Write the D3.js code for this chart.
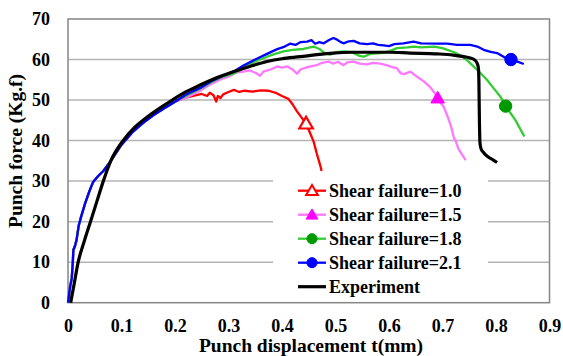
<!DOCTYPE html>
<html lang="en">
<head>
<meta charset="UTF-8">
<title>Punch force vs displacement</title>
<script src="https://d3js.org/d3.v7.min.js"></script>
</head>
<body style="margin:0; background:#fff">
<div id="chart"></div>
<script>
// ---- data (displacement mm, force Kg.f) ----
var xTicks = [0, 0.1, 0.2, 0.3, 0.4, 0.5, 0.6, 0.7, 0.8, 0.9];
var yTicks = [0, 10, 20, 30, 40, 50, 60, 70];

// shared elastic start of the four simulations
var simStart = [[0,0],[0.004,4],[0.007,6],[0.009,10],[0.01,13],[0.013,14],[0.016,15.5],[0.02,19],
  [0.024,21],[0.032,24.5],[0.04,27.5],[0.047,29.8],[0.056,31.2],[0.066,32.5],[0.08,35],[0.1,39],
  [0.12,42],[0.14,44.3],[0.16,46.3],[0.18,48],[0.2,49.6]];

var shear10 = [[0.22,50.6],[0.24,51.2],[0.25,51.5],[0.26,51.0],[0.265,51.8],[0.272,51.2],[0.277,49.6],
  [0.28,51.0],[0.285,50.5],[0.29,51.4],[0.30,52.0],[0.31,52.5],[0.32,52.0],[0.33,52.3],[0.345,52.1],
  [0.36,52.4],[0.375,52.3],[0.39,51.7],[0.40,51.0],[0.412,50.3],[0.42,48.9],[0.428,47.2],[0.437,45.6],
  [0.445,44.2],[0.452,42.0],[0.459,39.8],[0.465,36.8],[0.469,35.0],[0.472,33.6],[0.474,32.5]];

var shear15 = [[0.22,50.5],[0.247,52.3],[0.265,53.8],[0.284,55.0],[0.30,55.8],[0.315,56.8],[0.328,57.0],
  [0.34,57.3],[0.352,56.6],[0.359,56.0],[0.365,57.0],[0.38,57.6],[0.391,58.3],[0.40,58.0],[0.41,58.3],
  [0.42,57.5],[0.428,56.5],[0.435,57.6],[0.445,58.0],[0.453,58.3],[0.465,58.6],[0.475,59.2],[0.487,59.5],
  [0.495,59.0],[0.505,59.4],[0.515,58.6],[0.522,59.3],[0.534,59.5],[0.545,59.0],[0.559,58.8],[0.57,59.2],
  [0.584,59.0],[0.595,58.6],[0.605,58.2],[0.615,57.8],[0.622,56.6],[0.628,56.4],[0.64,57.0],[0.652,55.8],
  [0.665,54.6],[0.677,53.2],[0.685,51.8],[0.691,50.5],[0.697,49.2],[0.702,48.4],[0.710,45.8],[0.716,43.5],
  [0.721,40.8],[0.725,39.8],[0.730,37.9],[0.737,36.5],[0.743,35.2]];

var shear18 = [[0.22,51.0],[0.247,52.8],[0.27,54.6],[0.29,55.8],[0.309,56.5],[0.33,58.0],[0.35,59.5],
  [0.372,60.7],[0.39,61.5],[0.403,62.0],[0.42,62.4],[0.44,62.6],[0.459,63.2],[0.47,62.6],[0.48,61.6],
  [0.49,61.2],[0.50,61.8],[0.515,62.0],[0.53,61.8],[0.545,60.9],[0.553,60.7],[0.565,61.4],[0.584,61.6],
  [0.60,62.0],[0.615,62.8],[0.635,63.0],[0.646,63.2],[0.66,63.0],[0.684,63.2],[0.70,62.8],[0.709,62.4],
  [0.722,61.8],[0.734,61.0],[0.746,59.8],[0.758,58.3],[0.77,56.8],[0.783,55.0],[0.795,53.0],[0.808,50.9],
  [0.818,48.5],[0.826,47.0],[0.836,45.1],[0.844,43.2],[0.853,41.0]];

var shear21 = [[0.22,51.3],[0.247,53.0],[0.27,54.8],[0.29,56.0],[0.309,57.0],[0.328,58.5],[0.35,60.0],
  [0.372,61.4],[0.39,62.5],[0.405,63.2],[0.415,63.9],[0.425,63.6],[0.435,64.3],[0.447,64.4],[0.455,64.8],
  [0.462,63.9],[0.47,64.3],[0.478,64.0],[0.488,64.8],[0.496,65.3],[0.503,64.9],[0.51,64.3],[0.515,64.0],
  [0.525,64.5],[0.534,64.6],[0.545,64.0],[0.559,63.8],[0.57,64.0],[0.58,63.6],[0.59,63.5],[0.60,63.3],
  [0.61,63.8],[0.627,64.0],[0.646,64.4],[0.66,64.0],[0.69,63.9],[0.709,63.9],[0.727,63.6],[0.752,63.6],
  [0.765,63.2],[0.777,62.4],[0.79,61.9],[0.802,61.6],[0.815,60.6],[0.828,60.0],[0.84,59.5],[0.852,58.9]];

var experiment = [[0.005,0],[0.012,5],[0.019,10],[0.03,15],[0.042,20],[0.054,25],[0.066,30],[0.08,35],
  [0.103,40],[0.125,43.3],[0.15,46],[0.175,48.3],[0.195,50],[0.22,52],[0.247,53.7],[0.28,55.6],
  [0.309,57.0],[0.34,58.3],[0.372,59.5],[0.40,60.2],[0.434,60.7],[0.465,61.2],[0.496,61.6],[0.53,61.8],
  [0.565,61.8],[0.6,61.8],[0.64,61.6],[0.69,61.4],[0.72,61.1],[0.74,60.7],[0.752,60.4],[0.760,59.9],
  [0.765,59.0],[0.767,58.0],[0.768,55],[0.769,45],[0.770,39.5],[0.772,38.0],[0.777,37.0],[0.785,36.0],
  [0.795,35.2],[0.802,34.6]];

// one marker per simulated curve (failure point)
var markerPoints = [[0.445,44.2],[0.691,50.5],[0.818,48.5],[0.828,60.0]];

var seriesNames = ["Shear failure=1.0","Shear failure=1.5","Shear failure=1.8","Shear failure=2.1","Experiment"];
var seriesData = [simStart.concat(shear10), simStart.concat(shear15), simStart.concat(shear18),
                  simStart.concat(shear21), experiment];
var lineColors = ["#ff0000","#ff77ff","#33cc33","#0000ff","#000000"];
var markerFill = ["#ffffff","#ff00ff","#009900","#0000ff",null];
var markerStroke = ["#ff0000","#ff00ff","#009900","#0000ff",null];
var markerShape = [d3.symbolTriangle, d3.symbolTriangle, d3.symbolCircle, d3.symbolCircle, null];

var FONT = "'Liberation Serif', 'Times New Roman', serif";

// ---- layout ----
var W = 563, H = 356;
var svg = d3.select("#chart").append("svg").attr("width", W).attr("height", H);

var x = d3.scaleLinear().domain([0, 0.9]).range([68, 549.5]);
var y = d3.scaleLinear().domain([0, 70]).range([302.7, 19]);

function styleText(sel, size) {
  sel.style("font-family", FONT).style("font-weight", "bold")
     .style("font-size", size + "px").attr("fill", "#000");
}

// grid lines
svg.append("g").selectAll("line")
  .data(yTicks.filter(function(d) { return d > 0 && d < 70; }))
  .enter().append("line")
  .attr("x1", x(0)).attr("x2", x(0.9))
  .attr("y1", function(d) { return y(d); }).attr("y2", function(d) { return y(d); })
  .attr("stroke", "#b4b4b4").attr("stroke-width", 1.5);

// plot area border
svg.append("rect")
  .attr("x", x(0)).attr("y", y(70))
  .attr("width", x(0.9) - x(0)).attr("height", y(0) - y(70))
  .attr("fill", "none").attr("stroke", "#858585").attr("stroke-width", 1.5);

// axes
var xAxis = svg.append("g")
  .attr("transform", "translate(0," + y(0) + ")")
  .call(d3.axisBottom(x).tickValues(xTicks).tickSize(0).tickPadding(17)
    .tickFormat(function(d) { return d === 0 ? "0" : d3.format(".1f")(d); }));
xAxis.select(".domain").remove();
styleText(xAxis.selectAll("text"), 18);

var yAxis = svg.append("g")
  .attr("transform", "translate(" + x(0) + ",0)")
  .call(d3.axisLeft(y).tickValues(yTicks).tickSize(0).tickPadding(18));
yAxis.select(".domain").remove();
styleText(yAxis.selectAll("text"), 18);

// legend background (covers grid lines)
var lg = svg.append("g");
lg.append("rect").attr("x", 273).attr("y", 173).attr("width", 215).attr("height", 127).attr("fill", "#fff");

// curves
var line = d3.line().x(function(d) { return x(d[0]); }).y(function(d) { return y(d[1]); });
var smooth = d3.line().x(function(d) { return x(d[0]); }).y(function(d) { return y(d[1]); })
  .curve(d3.curveMonotoneX);

seriesData.forEach(function(data, i) {
  svg.append("path").datum(data)
    .attr("d", i === 4 ? smooth : line)
    .attr("fill", "none")
    .attr("stroke", lineColors[i])
    .attr("stroke-width", i === 4 ? 3.2 : 2.3)
    .attr("stroke-linejoin", "round");
  if (markerShape[i]) {
    var p = markerPoints[i];
    svg.append("path")
      .attr("d", d3.symbol().type(markerShape[i]).size(i < 2 ? 80 : 120)())
      .attr("transform", "translate(" + x(p[0]) + "," + (y(p[1]) + (i < 2 ? 1 : 0)) + ")")
      .attr("fill", markerFill[i]).attr("stroke", markerStroke[i])
      .attr("stroke-width", i === 0 ? 2.2 : 1);
  }
});

// legend entries
seriesNames.forEach(function(name, i) {
  var cy = 190.7 + i * 24;
  lg.append("line").attr("x1", 298).attr("x2", 326).attr("y1", cy).attr("y2", cy)
    .attr("stroke", lineColors[i]).attr("stroke-width", i === 4 ? 3.2 : 2.3);
  if (markerShape[i]) {
    lg.append("path")
      .attr("d", d3.symbol().type(markerShape[i]).size(i < 2 ? 60 : 80)())
      .attr("transform", "translate(312," + (cy + (i < 2 ? 1 : 0)) + ")")
      .attr("fill", markerFill[i]).attr("stroke", markerStroke[i])
      .attr("stroke-width", i === 0 ? 2 : 1);
  }
  styleText(lg.append("text").attr("x", 329).attr("y", cy + 6.3).text(name), 18);
});

// axis titles
styleText(svg.append("text").attr("x", 311).attr("y", 352).attr("text-anchor", "middle")
  .text("Punch displacement t(mm)"), 19.5);
styleText(svg.append("text").attr("transform", "translate(22,151) rotate(-90)").attr("text-anchor", "middle")
  .text("Punch force (Kg.f)"), 19.5);
</script>
</body>
</html>
